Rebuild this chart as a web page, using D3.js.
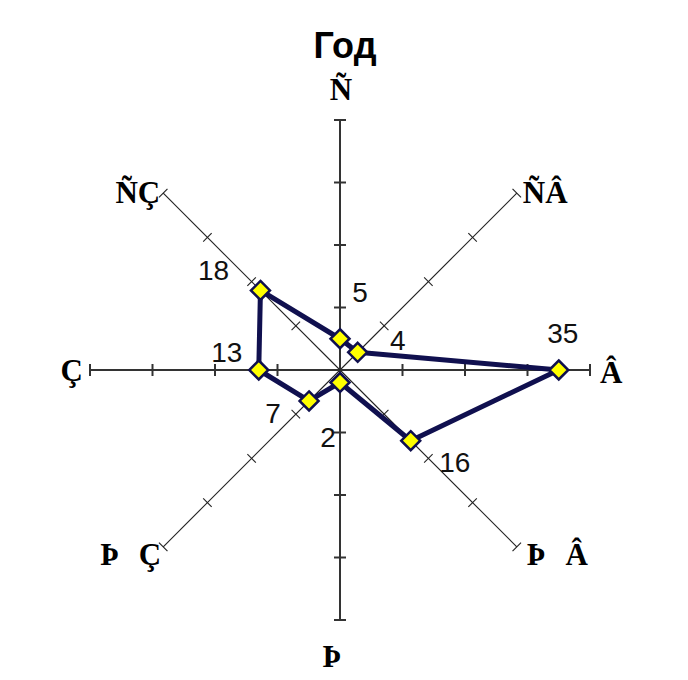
<!DOCTYPE html>
<html>
<head>
<meta charset="utf-8">
<script src="https://cdn.jsdelivr.net/npm/d3@7"></script>
<style>
  html, body { margin: 0; padding: 0; background: #fff; }
  svg { display: block; }
</style>
</head>
<body>
<svg id="chart" width="688" height="680"></svg>
<script>
// ---- data ----
const title = "Год";
const directions = ["Ñ", "ÑÂ", "Â", "Þ Â", "Þ", "Þ Ç", "Ç", "ÑÇ"];
const values = [5, 4, 35, 16, 2, 7, 13, 18];
const tickValues = [10, 20, 30, 40];

// ---- layout / style ----
const cx = 340, cy = 370;
const R = 250;
const svg = d3.select("#chart");

const r = d3.scaleLinear().domain([0, 40]).range([0, R]);
const angle = d3.scaleLinear().domain([0, directions.length]).range([0, 2 * Math.PI]);

const g = svg.append("g").attr("transform", `translate(${cx},${cy})`);

function pt(a, rad) { return [rad * Math.sin(a), -rad * Math.cos(a)]; }

// axes
directions.forEach((d, i) => {
  const a = angle(i);
  const main = i % 2 === 0;
  const [x2, y2] = pt(a, r(40));
  g.append("line")
    .attr("x1", 0).attr("y1", 0).attr("x2", x2).attr("y2", y2)
    .attr("stroke", main ? "#333" : "#222")
    .attr("stroke-width", main ? 2 : 1.1);
  tickValues.forEach(t => {
    const [tx, ty] = pt(a, r(t));
    const half = 6;
    const px = Math.cos(a) * half, py = Math.sin(a) * half;
    g.append("line")
      .attr("x1", tx - px).attr("y1", ty - py)
      .attr("x2", tx + px).attr("y2", ty + py)
      .attr("stroke", main ? "#333" : "#222")
      .attr("stroke-width", main ? 2 : 1.1);
  });
});

// axis labels (positions relative to axis end)
const dirLabelOffsets = [
  [1, -20, "middle"],   // N
  [6, 10, "start"],     // NE
  [10, 13, "start"],    // E
  [10, 18, "start"],    // SE
  [-8, 47, "middle"],   // S
  [-2, 18, "end"],      // SW
  [-7, 11, "end"],      // W
  [-3, 10, "end"]       // NW
];
directions.forEach((d, i) => {
  const [x, y] = pt(angle(i), r(40));
  const o = dirLabelOffsets[i];
  g.append("text")
    .attr("x", x + o[0]).attr("y", y + o[1])
    .attr("text-anchor", o[2])
    .attr("font-family", "'Liberation Serif', 'Times New Roman', serif")
    .attr("font-weight", "bold")
    .attr("font-size", 31)
    .attr("word-spacing", 12)
    .attr("fill", "#000")
    .text(d);
});

// title
svg.append("text")
  .attr("x", 345).attr("y", 58)
  .attr("text-anchor", "middle")
  .attr("font-family", "'Liberation Sans', Arial, sans-serif")
  .attr("font-weight", "bold")
  .attr("font-size", 36)
  .attr("fill", "#000")
  .text(title);

// data polygon
const line = d3.lineRadial()
  .angle((d, i) => angle(i))
  .radius(d => r(d))
  .curve(d3.curveLinearClosed);

g.append("path")
  .datum(values)
  .attr("d", line)
  .attr("fill", "none")
  .attr("stroke", "#10104f")
  .attr("stroke-width", 5)
  .attr("stroke-linejoin", "round");

// markers
const diamond = d3.symbol().type(d3.symbolDiamond2).size(230);
g.selectAll("path.mk")
  .data(values)
  .join("path")
  .attr("class", "mk")
  .attr("d", diamond)
  .attr("transform", (d, i) => {
    const [x, y] = pt(angle(i), r(d));
    return `translate(${x},${y})`;
  })
  .attr("fill", "#ffff00")
  .attr("stroke", "#10104f")
  .attr("stroke-width", 2.5);

// value labels
const valueLabelOffsets = [
  [20, -37], [40, -2], [4, -27], [44, 31],
  [-12, 64], [-36, 22], [-32, -8], [-47, -10]
];
g.selectAll("text.val")
  .data(values)
  .join("text")
  .attr("class", "val")
  .attr("x", (d, i) => pt(angle(i), r(d))[0] + valueLabelOffsets[i][0])
  .attr("y", (d, i) => pt(angle(i), r(d))[1] + valueLabelOffsets[i][1])
  .attr("text-anchor", "middle")
  .attr("font-family", "'Liberation Sans', Arial, sans-serif")
  .attr("font-size", 28)
  .attr("fill", "#111")
  .text(d => d);
</script>
</body>
</html>
